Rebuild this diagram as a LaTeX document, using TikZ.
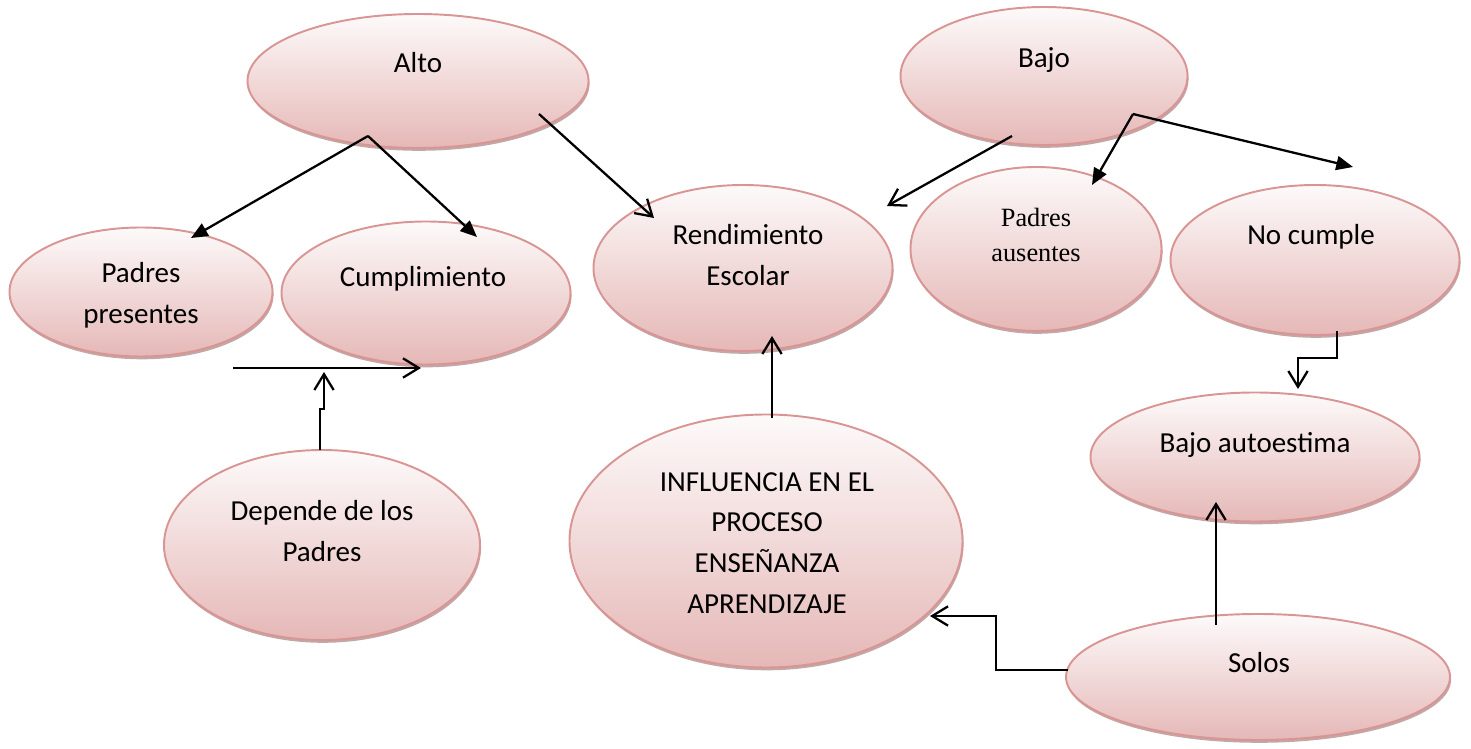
\documentclass[tikz,border=0pt]{standalone}
\usepackage{fontspec}
\setmainfont{Carlito}
\newfontfamily\timesfont{Liberation Serif}
\usepackage{tikz}
\usetikzlibrary{arrows.meta,shapes.geometric,shadows}
\definecolor{bubbletop}{HTML}{FDFAFA}
\definecolor{bubblebot}{HTML}{E5B8B7}
\definecolor{bubbleline}{HTML}{D99594}
\definecolor{bubbleshade}{HTML}{A88282}
\tikzset{
  bubble/.style 2 args={ellipse, draw=bubbleline, line width=1.1pt,
    top color=bubbletop, bottom color=bubblebot,
    minimum width=#1*0.02cm, minimum height=#2*0.02cm, inner sep=0pt, outer sep=0pt,
    drop shadow={shadow xshift=0.6pt, shadow yshift=-1.6pt, fill=bubbleshade, opacity=0.7}},
  word/.style={font=\fontsize{16.5}{23.2}\selectfont, align=center, inner sep=0pt},
  serifword/.style={font=\timesfont\fontsize{15}{20.4}\selectfont, align=center, inner sep=0pt},
  solidtip/.style={-{Triangle[length=9.5pt,width=8pt]}, line width=1.3pt},
  opentip/.style={-{Straight Barb[length=9pt,width=11pt]}, line width=1.3pt}
}

\begin{document}
\begin{tikzpicture}[x=0.02cm,y=-0.02cm]
\useasboundingbox (0,0) rectangle (1471,749);
% top row:
 \node[bubble={341}{134}] (alto) at (418,81) {};
 \node[word] (altoT) at (418,63) {Alto};
 \node[bubble={287}{138}] (bajo) at (1044,76) {};
 \node[word] (bajoT) at (1044,60) {Bajo};
% middle row:
 \node[bubble={263}{129}] (pres) at (141,292) {};
 \node[word] (presT) at (141,295) {Padres\\presentes};
 \node[bubble={289}{143}] (cumpl) at (426,293) {};
 \node[word] (cumplT) at (423,279) {Cumplimiento};
 \node[bubble={299}{166}] (rend) at (743,268) {};
 \node[word] (rendT) at (748,255) {Rendimiento\\Escolar};
 \node[bubble={251}{164}] (aus) at (1036,249) {};
 \node[serifword] (ausT) at (1036,235) {Padres\\ausentes};
 \node[bubble={289}{150}] (nc) at (1315,260) {};
 \node[word] (ncT) at (1311,237) {No cumple};
% bottom row:
 \node[bubble={329}{129}] (auto) at (1255,457) {};
 \node[word] (autoT) at (1255,445) {Bajo autoestima};
 \node[bubble={316}{190}] (dep) at (322,545) {};
 \node[word] (depT) at (322,531) {Depende de los\\Padres};
 \node[bubble={393}{253}] (infl) at (766,541) {};
 \node[word] (inflT) at (767,543) {INFLUENCIA EN EL\\PROCESO\\ENSEÑANZA\\APRENDIZAJE};
 \node[bubble={384}{126}] (solos) at (1258,677) {};
 \node[word] (solosT) at (1259,663) {Solos};
%% connector ends:
 \coordinate (altoFork) at (368,136);
 \coordinate (altoEdge) at (539,114);
 \coordinate (bajoEdge) at (1012,136);
 \coordinate (bajoFork) at (1133,114);
 \coordinate (presIn) at (191,238);
 \coordinate (cumplIn) at (477,237);
 \coordinate (rendL) at (654,218);
 \coordinate (rendR) at (887,206);
 \coordinate (ausIn) at (1092,185);
 \coordinate (ncIn) at (1353,167);
 \coordinate (barL) at (233,368);
 \coordinate (barR) at (421,368);
 \coordinate (barHit) at (324,372);
 \coordinate (depOut) at (320,450);
 \coordinate (inflOut) at (772,418);
 \coordinate (rendIn) at (772,336);
 \coordinate (ncOut) at (1337,331);
 \coordinate (autoIn) at (1298,389);
 \coordinate (solosUp) at (1216,625);
 \coordinate (autoUp) at (1216,502);
 \coordinate (solosOut) at (1068,670);
 \coordinate (inflJog) at (996,616);
 \coordinate (inflIn) at (930,616);
%% branches:
 \draw[solidtip] (altoFork) -- (presIn);
 \draw[solidtip] (altoFork) -- (cumplIn);
 \draw[opentip] (altoEdge) -- (rendL);
 \draw[opentip] (bajoEdge) -- (rendR);
 \draw[solidtip] (bajoFork) -- (ausIn);
 \draw[solidtip] (bajoFork) -- (ncIn);
%% elbows:
 \draw[opentip] (barL) -- (barR);
 \draw[opentip] (depOut) -- ++(0,-41) -- ++(4,0) -- (barHit);
 \draw[opentip] (inflOut) -- (rendIn);
 \draw[opentip] (ncOut) -- ++(0,27) -| (autoIn);
 \draw[opentip] (solosUp) -- (autoUp);
 \draw[opentip] (solosOut) -| (inflJog) -- (inflIn);
\end{tikzpicture}
\end{document}
